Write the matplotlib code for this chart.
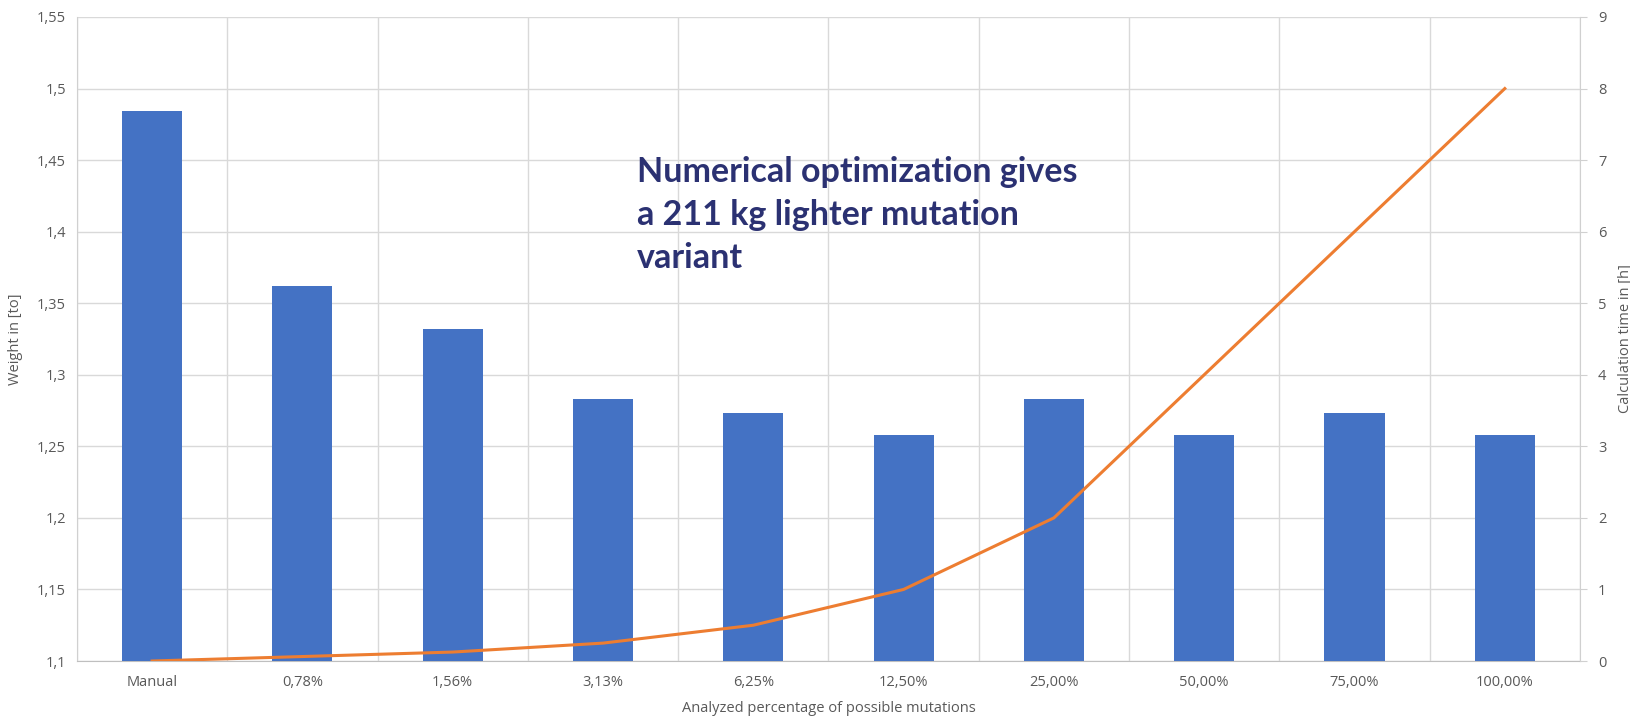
import numpy as np
import matplotlib
matplotlib.use('Agg')
import matplotlib.pyplot as plt
import matplotlib.ticker as ticker

# Data
categories = ['Manual', '0,78%', '1,56%', '3,13%', '6,25%',
              '12,50%', '25,00%', '50,00%', '75,00%', '100,00%']
weight = [1.484, 1.362, 1.332, 1.283, 1.273, 1.258, 1.283, 1.258, 1.273, 1.258]
calc_time = [0.0, 0.0625, 0.125, 0.25, 0.5, 1.0, 2.0, 4.0, 6.0, 8.0]

blue = '#4472C4'
orange = '#ED7D31'
grid = '#D9D9D9'
text_gray = '#595959'

plt.rcParams['font.family'] = ['Open Sans', 'DejaVu Sans']

fig = plt.figure(figsize=(16.3, 7.17), dpi=100)
ax = fig.add_axes([0.0472, 0.0781, 0.9221, 0.8982])
ax2 = ax.twinx()

x = np.arange(len(categories))
ax.bar(x, weight, width=0.4, color=blue, linewidth=0, zorder=3)
ax.set_ylim(1.1, 1.55)
ax.set_xlim(-0.5, len(categories) - 0.5)
ax.yaxis.set_major_locator(ticker.MultipleLocator(0.05))
ax.yaxis.set_major_formatter(ticker.FuncFormatter(
    lambda v, p: ('%g' % round(v, 2)).replace('.', ',')))

# category separators + horizontal grid
ax.set_xticks(x)
ax.set_xticklabels(categories)
ax.set_xticks(np.arange(-0.5, len(categories)), minor=True)
ax.grid(axis='x', which='minor', color=grid, lw=1, zorder=0)
ax.grid(axis='y', which='major', color=grid, lw=1, zorder=0)
ax.set_axisbelow(True)

ax2.plot(x, calc_time, color=orange, lw=2.2, zorder=4)
ax2.set_ylim(0, 9)
ax2.yaxis.set_major_locator(ticker.MultipleLocator(1))

for a in (ax, ax2):
    for s in a.spines.values():
        s.set_visible(False)
    a.tick_params(colors=text_gray, labelsize=10.5, length=0)
ax.spines['bottom'].set_visible(True)
ax.spines['bottom'].set_color('#BFBFBF')
ax.spines['left'].set_visible(True)
ax.spines['left'].set_color('#D0D0D0')
ax2.spines['right'].set_visible(True)
ax2.spines['right'].set_color('#D0D0D0')
ax2.tick_params(axis='y', length=5, color='#D0D0D0', pad=8)
ax.tick_params(axis='x', which='both', length=0, pad=10)
ax.tick_params(axis='y', pad=8)

ax.set_ylabel('Weight in [to]', color=text_gray, fontsize=10.5, labelpad=10)
ax2.set_ylabel('Calculation time in [h]', color=text_gray, fontsize=10.5, labelpad=8)
ax.set_xlabel('Analyzed percentage of possible mutations', color=text_gray,
              fontsize=10.5, labelpad=8)

fig.text(0.391, 0.782,
         'Numerical optimization gives\na 211 kg lighter mutation\nvariant',
         color='#2B3172', fontsize=24.5, fontweight='bold', family=['Lato', 'DejaVu Sans'],
         va='top', ha='left', linespacing=1.42)

fig.savefig('out.png', dpi=100)
